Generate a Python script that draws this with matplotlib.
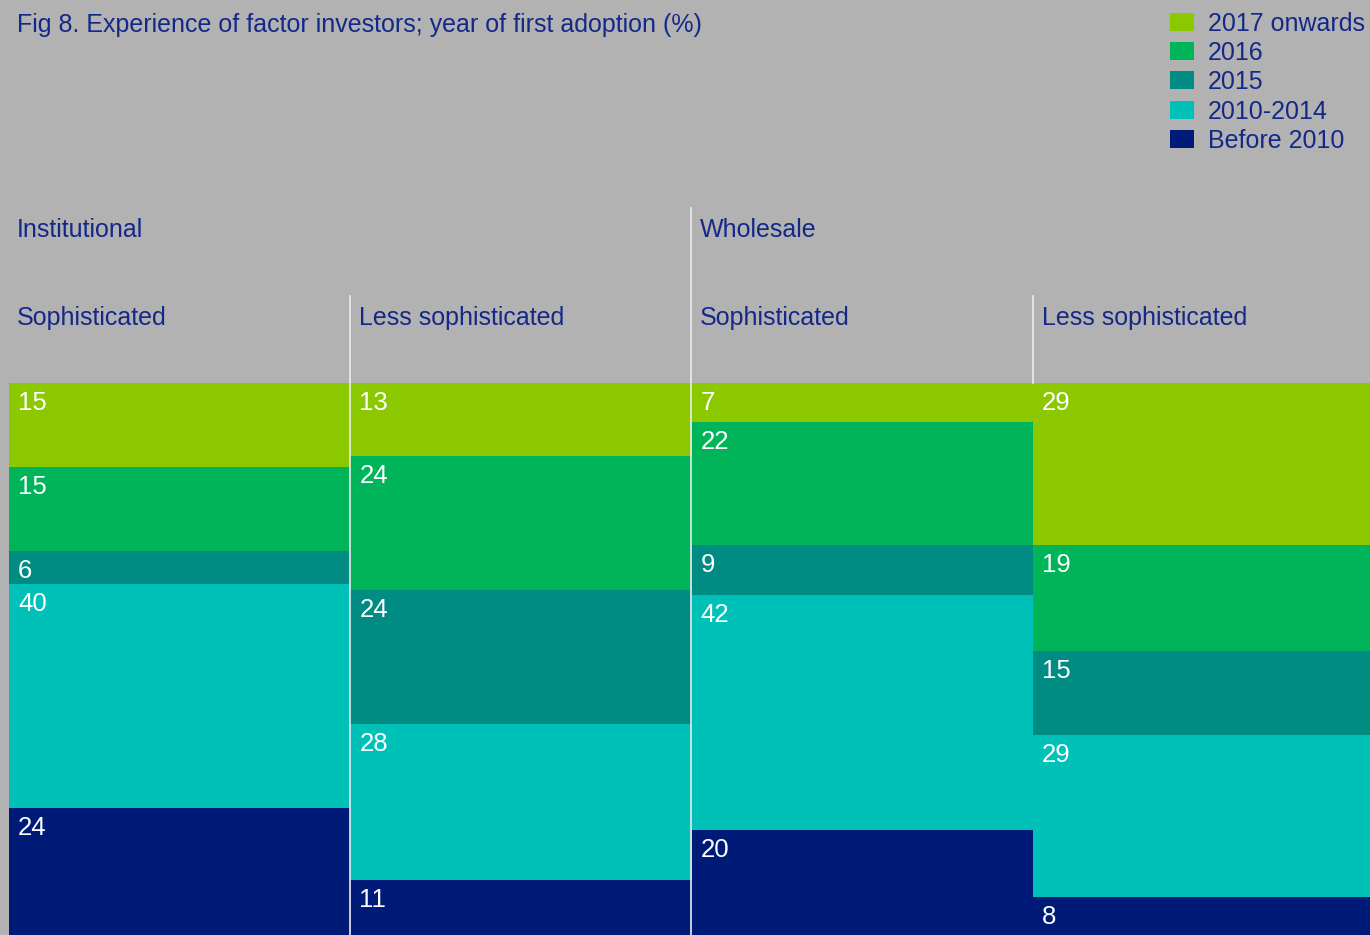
import numpy as np
import matplotlib.pyplot as plt
from matplotlib.patches import Rectangle
from matplotlib.lines import Line2D

plt.rcParams['font.family'] = ['Liberation Sans', 'DejaVu Sans']

# data, top-down order within each column
periods = ['2017 onwards', '2016', '2015', '2010-2014', 'Before 2010']
colors = ['#8cc800', '#00b45a', '#008c82', '#00c1b8', '#001a78']
columns = ['Sophisticated', 'Less sophisticated', 'Sophisticated', 'Less sophisticated']
groups = ['Institutional', 'Wholesale']
values = np.array([
    [15, 15, 6, 40, 24],
    [13, 24, 24, 28, 11],
    [7, 22, 9, 42, 20],
    [29, 19, 15, 29, 8],
])

W, H = 1370, 935
bg = '#b2b2b2'
navy = '#14288a'
fig = plt.figure(figsize=(W / 100, H / 100), dpi=100, facecolor=bg)

def fx(px):
    return px / W

def fy(py):
    return 1 - py / H

# plot area runs a bit past the right and bottom edges (cropped like the original)
ax = fig.add_axes([fx(9), fy(383 + 558.7), 4 * 341.3 / W, 558.7 / H])
ax.set_facecolor(bg)
ax.set_xlim(0, 4)
ax.set_ylim(100, 0)
ax.axis('off')

for i in range(len(columns)):
    bottom = 0
    for j in range(len(periods)):
        v = values[i, j]
        ax.bar(i, v, bottom=bottom, width=1, align='edge', color=colors[j], linewidth=0)
        ax.annotate(str(v), xy=(i, bottom), xytext=(9, -27), textcoords='offset pixels',
                    color='white', fontsize=18.5, va='baseline', ha='left')
        bottom += v

# title
fig.text(fx(17), fy(32), 'Fig 8. Experience of factor investors; year of first adoption (%)',
         color=navy, fontsize=18, va='baseline', ha='left')

# group and column headers
fig.text(fx(17), fy(237), groups[0], color=navy, fontsize=18, va='baseline')
fig.text(fx(700), fy(237), groups[1], color=navy, fontsize=18, va='baseline')
col_x = [17, 359, 700, 1042]
for cx, name in zip(col_x, columns):
    fig.text(fx(cx), fy(325), name, color=navy, fontsize=18, va='baseline')

# separators
line_c = '#ececec'
fig.add_artist(Line2D([fx(350), fx(350)], [fy(296), fy(935)], color=line_c, lw=1.2))
fig.add_artist(Line2D([fx(691), fx(691)], [fy(208), fy(935)], color=line_c, lw=1.2))
fig.add_artist(Line2D([fx(1033), fx(1033)], [fy(296), fy(383)], color=line_c, lw=1.2))

# legend
for k, (lab, c) in enumerate(zip(periods, colors)):
    base = 31 + k * 29.2
    fig.add_artist(Rectangle((fx(1170), fy(base)), 24 / W, 18 / H, color=c, lw=0))
    fig.text(fx(1208), fy(base), lab, color=navy, fontsize=18, va='baseline')

fig.savefig('out.png', dpi=100, facecolor=bg)
